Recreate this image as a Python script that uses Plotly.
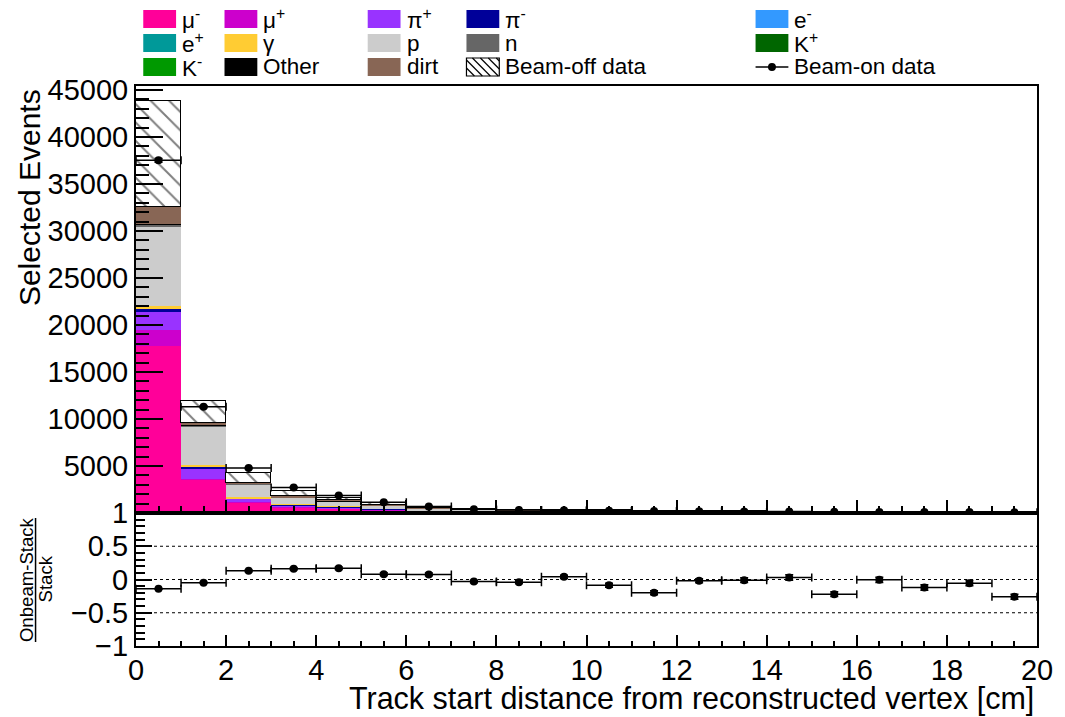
import plotly.graph_objects as go

# ---- binning: track start distance [cm], 1 cm bins from 0 to 20 ----
bin_centers = [0.5, 1.5, 2.5, 3.5, 4.5, 5.5, 6.5, 7.5, 8.5, 9.5,
               10.5, 11.5, 12.5, 13.5, 14.5, 15.5, 16.5, 17.5, 18.5, 19.5]

# ---- simulated stack, by true particle type (events per bin) ----
mu_minus = [17810, 3530, 1100, 600, 450, 300, 180, 120, 95, 85, 75, 65, 60, 55, 48, 45, 40, 36, 33, 30]
mu_plus = [1610, 100, 60, 40, 30, 20, 15, 10, 8, 7, 6, 5, 5, 4, 4, 3, 3, 3, 2, 2]
pi_plus = [1970, 1150, 350, 200, 140, 90, 60, 40, 30, 25, 22, 20, 18, 16, 14, 12, 11, 10, 9, 8]
pi_minus = [350, 150, 50, 30, 20, 15, 10, 8, 6, 5, 4, 4, 3, 3, 3, 2, 2, 2, 2, 2]
e_minus = [40, 20, 10, 8, 6, 5, 4, 3, 3, 2, 2, 2, 2, 1, 1, 1, 1, 1, 1, 1]
e_plus = [20, 10, 5, 3, 2, 2, 1, 1, 1, 1, 0, 0, 0, 0, 0, 0, 0, 0, 0, 0]
gamma = [180, 150, 100, 80, 60, 45, 35, 25, 20, 18, 15, 13, 12, 11, 10, 9, 8, 7, 7, 6]
proton = [8550, 4120, 1400, 700, 550, 350, 170, 120, 90, 70, 55, 45, 40, 35, 30, 28, 25, 22, 20, 18]
neutron = [150, 60, 30, 20, 15, 10, 8, 6, 5, 4, 3, 3, 3, 2, 2, 2, 2, 2, 2, 1]
k_plus = [30, 10, 5, 3, 2, 1, 1, 0, 0, 0, 0, 0, 0, 0, 0, 0, 0, 0, 0, 0]
k_minus = [5, 2, 1, 1, 1, 0, 0, 0, 0, 0, 0, 0, 0, 0, 0, 0, 0, 0, 0, 0]
other = [60, 20, 10, 5, 4, 3, 2, 2, 1, 1, 1, 1, 1, 1, 0, 0, 0, 0, 0, 0]
dirt = [1790, 290, 100, 80, 60, 40, 30, 25, 20, 18, 15, 13, 12, 11, 10, 9, 8, 7, 7, 6]
beam_off = [11240, 2340, 1010, 570, 240, 180, 115, 50, 65, 43, 75, 90, 38, 33, 24, 43, 16, 24, 17, 34]

# ---- beam-on data ----
beam_on = [37520, 11300, 4780, 2710, 1850, 1145, 680, 400, 330, 290,
           250, 210, 190, 170, 150, 120, 115, 100, 95, 80]
beam_on_err = [194, 106, 69, 52, 43, 34, 26, 20, 18, 17, 16, 14, 14, 13, 12, 11, 11, 10, 10, 9]

# ---- (Onbeam - Stack) / Stack ----
ratio = [-0.14, -0.05, 0.13, 0.16, 0.17, 0.08, 0.076, -0.03, -0.04, 0.04,
         -0.086, -0.20, -0.02, -0.01, 0.03, -0.22, -0.005, -0.12, -0.055, -0.26]
ratio_err = [0.005, 0.008, 0.012, 0.015, 0.018, 0.02, 0.02, 0.02, 0.02, 0.025,
             0.03, 0.03, 0.03, 0.035, 0.043, 0.035, 0.04, 0.04, 0.04, 0.038]

# stack layers, bottom to top: (name, values, colour)
stack = [
    ("μ-", mu_minus, "#FF0099"),
    ("μ+", mu_plus, "#CC00CC"),
    ("π+", pi_plus, "#9933FF"),
    ("π-", pi_minus, "#000099"),
    ("e-", e_minus, "#3399FF"),
    ("e+", e_plus, "#009999"),
    ("γ", gamma, "#FFCC33"),
    ("p", proton, "#CCCCCC"),
    ("n", neutron, "#666666"),
    ("K+", k_plus, "#006600"),
    ("K-", k_minus, "#009900"),
    ("Other", other, "#000000"),
    ("dirt", dirt, "#886655"),
]

# ---- canvas geometry ----
W, H = 1065, 717
ML, MR, MT, MB = 136, 23, 86, 71
PW, PH = W - ML - MR, H - MT - MB


def fx(px):
    return (px - ML) / PW


def fy(py):
    return (H - MB - py) / PH


split = fy(513)
FONT = "Liberation Sans, Arial, Helvetica, sans-serif"

fig = go.Figure()

for name, vals, col in stack:
    fig.add_trace(go.Bar(
        x=bin_centers, y=vals, width=1.0, name=name,
        marker=dict(color=col, line=dict(width=0)),
        xaxis="x", yaxis="y", showlegend=False,
    ))

fig.add_trace(go.Bar(
    x=bin_centers, y=beam_off, width=1.0, name="Beam-off data",
    marker=dict(color="white",
                line=dict(color="black", width=1),
                pattern=dict(shape="\\", fgcolor="black", bgcolor="white",
                             size=13, solidity=0.15)),
    xaxis="x", yaxis="y", showlegend=False,
))

fig.add_trace(go.Scatter(
    x=bin_centers, y=beam_on, mode="markers", name="Beam-on data",
    marker=dict(color="black", size=8),
    error_x=dict(type="constant", value=0.5, color="black", thickness=1.5, width=4),
    error_y=dict(type="data", array=beam_on_err, color="black", thickness=1.5, width=4),
    xaxis="x", yaxis="y", showlegend=False,
))

fig.add_trace(go.Scatter(
    x=bin_centers, y=ratio, mode="markers", name="ratio",
    marker=dict(color="black", size=8),
    error_x=dict(type="constant", value=0.5, color="black", thickness=1.5, width=4),
    error_y=dict(type="data", array=ratio_err, color="black", thickness=1.5, width=4),
    xaxis="x2", yaxis="y2", showlegend=False,
))

axis_common = dict(showline=True, linecolor="black", linewidth=2, mirror=True,
                   showgrid=False, zeroline=False, ticks="inside",
                   tickcolor="black", tickwidth=1.5,
                   tickfont=dict(family=FONT, size=29, color="black"))

shapes = []
annotations = []

# dotted reference lines in the ratio panel
for v in (0.5, 0.0, -0.5):
    shapes.append(dict(type="line", xref="x2", yref="y2", x0=0, x1=20, y0=v, y1=v,
                       line=dict(color="black", width=1.2, dash="dot")))

# ---- legend (drawn by hand: five columns, three rows) ----
col_x = [143.3, 225.0, 369.0, 468.3, 759.0]
row_y = [19, 43, 67]
legend_items = [
    ("μ<sup>-</sup>", "#FF0099", 0, 0), ("μ<sup>+</sup>", "#CC00CC", 1, 0),
    ("π<sup>+</sup>", "#9933FF", 2, 0), ("π<sup>-</sup>", "#000099", 3, 0),
    ("e<sup>-</sup>", "#3399FF", 4, 0),
    ("e<sup>+</sup>", "#009999", 0, 1), ("γ", "#FFCC33", 1, 1),
    ("p", "#CCCCCC", 2, 1), ("n", "#666666", 3, 1), ("K<sup>+</sup>", "#006600", 4, 1),
    ("K<sup>-</sup>", "#009900", 0, 2), ("Other", "#000000", 1, 2),
    ("dirt", "#886655", 2, 2),
]
SW, SH = 33, 18
for label, col, c, r in legend_items:
    x0 = col_x[c]
    yc = row_y[r]
    shapes.append(dict(type="rect", xref="paper", yref="paper",
                       x0=fx(x0), x1=fx(x0 + SW), y0=fy(yc + SH / 2), y1=fy(yc - SH / 2),
                       fillcolor=col, line=dict(width=0)))
    annotations.append(dict(xref="paper", yref="paper", x=fx(x0 + SW + 4), y=fy(yc),
                            xanchor="left", yanchor="middle", showarrow=False,
                            text=label, font=dict(family=FONT, size=22.5, color="black")))

# hatched swatch for beam-off data
hx0, hyc = col_x[3], row_y[2]
hx1, hy0, hy1 = hx0 + SW, hyc - SH / 2, hyc + SH / 2
shapes.append(dict(type="rect", xref="paper", yref="paper",
                   x0=fx(hx0), x1=fx(hx1), y0=fy(hy1), y1=fy(hy0),
                   fillcolor="white", line=dict(color="black", width=1.2)))
step = 8
s = -SH
while s < SW:
    # line running down-right at 45 degrees, clipped to the swatch
    ax, ay = hx0 + s, hy0
    bx, by = hx0 + s + SH, hy1
    if ax < hx0:
        ay = hy0 + (hx0 - ax)
        ax = hx0
    if bx > hx1:
        by = hy1 - (bx - hx1)
        bx = hx1
    if bx > ax:
        shapes.append(dict(type="line", xref="paper", yref="paper",
                           x0=fx(ax), y0=fy(ay), x1=fx(bx), y1=fy(by),
                           line=dict(color="black", width=1.2)))
    s += step
annotations.append(dict(xref="paper", yref="paper", x=fx(hx1 + 4), y=fy(hyc),
                        xanchor="left", yanchor="middle", showarrow=False,
                        text="Beam-off data", font=dict(family=FONT, size=22.5, color="black")))

# beam-on data legend: line with a dot
bx0, byc = col_x[4], row_y[2]
shapes.append(dict(type="line", xref="paper", yref="paper",
                   x0=fx(bx0), x1=fx(bx0 + SW), y0=fy(byc), y1=fy(byc),
                   line=dict(color="black", width=1.5)))
shapes.append(dict(type="circle", xref="paper", yref="paper",
                   x0=fx(bx0 + SW / 2 - 4), x1=fx(bx0 + SW / 2 + 4),
                   y0=fy(byc + 4), y1=fy(byc - 4),
                   fillcolor="black", line=dict(color="black", width=0)))
annotations.append(dict(xref="paper", yref="paper", x=fx(bx0 + SW + 4), y=fy(byc),
                        xanchor="left", yanchor="middle", showarrow=False,
                        text="Beam-on data", font=dict(family=FONT, size=22.5, color="black")))

# ---- axis titles ----
annotations.append(dict(xref="paper", yref="paper", x=fx(1041), y=fy(699),
                        xanchor="right", yanchor="middle", showarrow=False,
                        text="Track start distance from reconstructed vertex [cm]",
                        font=dict(family=FONT, size=30.5, color="black")))
annotations.append(dict(xref="paper", yref="paper", x=fx(29), y=fy(197.5),
                        xanchor="center", yanchor="middle", showarrow=False, textangle=-90,
                        text="Selected Events",
                        font=dict(family=FONT, size=30, color="black")))
annotations.append(dict(xref="paper", yref="paper", x=fx(25.5), y=fy(580),
                        xanchor="center", yanchor="middle", showarrow=False, textangle=-90,
                        text="Onbeam-Stack",
                        font=dict(family=FONT, size=18.6, color="black")))
annotations.append(dict(xref="paper", yref="paper", x=fx(45.5), y=fy(578.5),
                        xanchor="center", yanchor="middle", showarrow=False, textangle=-90,
                        text="Stack",
                        font=dict(family=FONT, size=18.6, color="black")))
shapes.append(dict(type="line", xref="paper", yref="paper",
                   x0=fx(35), x1=fx(35), y0=fy(518), y1=fy(642),
                   line=dict(color="black", width=1.5)))

fig.update_layout(
    width=W, height=H,
    margin=dict(l=ML, r=MR, t=MT, b=MB, pad=0),
    paper_bgcolor="white", plot_bgcolor="white",
    barmode="stack", bargap=0,
    font=dict(family=FONT, color="black"),
    xaxis=dict(axis_common, domain=[0, 1], anchor="y", range=[0, 20],
               tick0=0, dtick=2, ticklen=13, showticklabels=False,
               minor=dict(ticks="inside", dtick=0.5, ticklen=7, tickcolor="black", tickwidth=1.5)),
    yaxis=dict(axis_common, domain=[split, 1], anchor="x", range=[0, 45425],
               tick0=0, dtick=5000, ticklen=27, tickformat="d", labelalias={"0": ""},
               minor=dict(ticks="inside", dtick=1000, ticklen=13, tickcolor="black", tickwidth=1.5)),
    xaxis2=dict(axis_common, domain=[0, 1], anchor="y2", range=[0, 20], matches="x",
                tick0=0, dtick=2, ticklen=11, ticklabelstandoff=-3,
                minor=dict(ticks="inside", dtick=0.5, ticklen=5, tickcolor="black", tickwidth=1.5)),
    yaxis2=dict(axis_common, domain=[0, split], anchor="x2", range=[-1, 1],
                tick0=0, dtick=0.5, ticklen=16,
                minor=dict(ticks="inside", dtick=0.1, ticklen=9, tickcolor="black", tickwidth=1.5)),
    shapes=shapes,
    annotations=annotations,
)

fig.write_html("out.html")
